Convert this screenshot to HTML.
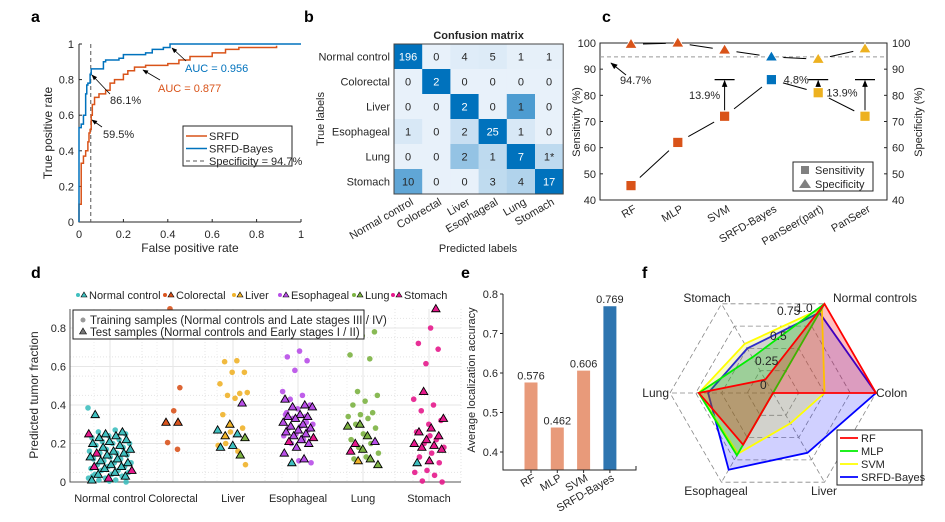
<!DOCTYPE html>
<html><head><meta charset="utf-8">
<style>
html,body{margin:0;padding:0;background:#fff;}
svg{display:block;font-family:"Liberation Sans",Arial,sans-serif;fill:#262626;}
text{font-size:11px;}
.pl{font-size:16px;font-weight:bold;fill:#000;}
</style></head><body>
<svg id="fig" width="945" height="522" viewBox="0 0 945 522" xmlns="http://www.w3.org/2000/svg">
<text class="pl" x="31" y="22">a</text>
<text class="pl" x="304" y="22">b</text>
<text class="pl" x="602" y="22">c</text>
<text class="pl" x="31" y="278">d</text>
<text class="pl" x="461" y="278">e</text>
<text class="pl" x="642" y="278">f</text>
<g id="ga"></g>
<g id="gb"></g>
<g id="gc"></g>
<g id="gd"></g>
<g id="ge"></g>
<g id="gf"></g>
</svg>
<script>
// ---------- Panel a data ----------
const rocBayesFpr=[0,0,0.01,0.02,0.03,0.035,0.04,0.05,0.055,0.1,0.11,0.12,0.18,0.2,0.3,0.33,0.38,0.41,1];
const rocBayesTpr=[0,0.53,0.55,0.6,0.72,0.77,0.78,0.83,0.86,0.86,0.9,0.91,0.92,0.94,0.95,0.97,0.98,1,1];
const rocSrfdFpr=[0,0,0.01,0.02,0.03,0.04,0.045,0.05,0.055,0.06,0.07,0.09,0.12,0.14,0.16,0.2,0.22,0.25,0.3,0.4,0.45,0.5,0.6,0.66,0.72,0.89];
const rocSrfdTpr=[0,0.1,0.33,0.37,0.4,0.45,0.5,0.52,0.6,0.66,0.7,0.72,0.74,0.78,0.8,0.83,0.85,0.87,0.88,0.89,0.91,0.93,0.95,0.97,0.98,0.99];
const rocTicks=[0,0.2,0.4,0.6,0.8,1];
const specLine=0.053;
// ---------- Panel b data ----------
const cmLabels=["Normal control","Colorectal","Liver","Esophageal","Lung","Stomach"];
const cmValues=[[196,0,4,5,1,1],[0,2,0,0,0,0],[0,0,2,0,1,0],[1,0,2,25,1,0],[0,0,2,1,7,1],[10,0,0,3,4,17]];
// ---------- Panel c data ----------
const cCats=["RF","MLP","SVM","SRFD-Bayes","PanSeer(part)","PanSeer"];
const cSens=[45.5,62,72,86,81,72];
const cSpec=[99.5,100,97.3,94.7,93.8,97.8];
const cTicks=[40,50,60,70,80,90,100];
// ---------- Panel d data ----------
const dCats=["Normal control","Colorectal","Liver","Esophageal","Lung","Stomach"];
const dTrain=[
 [0.385,0.27,0.26,0.25,0.24,0.23,0.22,0.21,0.2,0.2,0.19,0.18,0.17,0.16,0.15,0.15,0.14,0.13,0.12,0.12,0.11,0.1,0.1,0.09,0.08,0.08,0.07,0.06,0.06,0.05,0.04,0.04,0.03,0.02,0.02,0.01,0.01,0.0,0.005,0.03],
 [0.9,0.49,0.37,0.205,0.17],
 [0.63,0.625,0.57,0.57,0.51,0.46,0.45,0.465,0.435,0.35,0.28,0.26,0.19,0.16,0.2,0.09],
 [0.76,0.68,0.65,0.63,0.58,0.47,0.45,0.43,0.4,0.38,0.35,0.34,0.33,0.3,0.29,0.28,0.27,0.25,0.24,0.22,0.2,0.1,0.11,0.36,0.31],
 [0.8,0.78,0.76,0.66,0.64,0.47,0.45,0.42,0.4,0.36,0.35,0.34,0.33,0.3,0.28,0.25,0.22,0.2,0.18,0.15,0.13,0.12],
 [0.8,0.72,0.69,0.615,0.43,0.4,0.37,0.32,0.3,0.26,0.22,0.2,0.18,0.15,0.13,0.1,0.06,0.05,0.035,0.005,0.0,0.24]
];
const dTest=[
 [0.35,0.26,0.25,0.25,0.24,0.23,0.22,0.21,0.2,0.19,0.18,0.17,0.16,0.15,0.15,0.14,0.13,0.12,0.11,0.1,0.09,0.08,0.08,0.07,0.06,0.05,0.04,0.03,0.02,0.01],
 [0.31,0.31],
 [0.41,0.3,0.27,0.25,0.24,0.23,0.19,0.18,0.14],
 [0.43,0.4,0.39,0.39,0.35,0.34,0.34,0.33,0.31,0.3,0.29,0.28,0.27,0.26,0.25,0.24,0.23,0.22,0.21,0.2,0.18,0.15,0.12,0.1],
 [0.3,0.29,0.24,0.2,0.21,0.17,0.16,0.12,0.11,0.09],
 [0.9,0.47,0.33,0.28,0.26,0.24,0.22,0.2,0.19,0.18,0.17,0.11,0.1]
];
const dTestClass=[
 [0,0,0,5,0,0,0,0,0,0,0,0,0,5,0,0,0,0,0,0,0,5,0,0,5,0,0,0,5,0],
 [1,1],
 [3,2,0,0,2,4,0,0,4],
 [3,3,3,3,3,3,3,3,3,3,3,3,3,3,3,3,5,3,5,3,3,3,3,0],
 [4,4,4,5,3,4,5,4,2,4],
 [5,5,5,5,5,5,5,5,5,5,5,5,0]
];
const dTicks=[0,0.2,0.4,0.6,0.8];
// ---------- Panel e data ----------
const eCats=["RF","MLP","SVM","SRFD-Bayes"];
const eVals=[0.576,0.462,0.606,0.769];
const eLabels=["0.576","0.462","0.606","0.769"];
const eTicks=[0.4,0.5,0.6,0.7,0.8];
// ---------- Panel f data ----------
const fAxes=["Colon","Normal controls","Stomach","Lung","Esophageal","Liver"];
const fRF=[1,1,0.15,0.72,0.58,0];
const fMLP=[0,1,0.4,0.72,0.7,0];
const fSVM=[0.5,0.95,0.55,0.72,0.68,0.34];
const fBayes=[1,0.9,0.5,0.63,0.86,0.67];
const fRings=[0.25,0.5,0.75,1];

const NS="http://www.w3.org/2000/svg";
function mk(parent,tag,attrs,txt){const e=document.createElementNS(NS,tag);for(const k in attrs)e.setAttribute(k,attrs[k]);if(txt!==undefined)e.textContent=txt;parent.appendChild(e);return e;}
const fmt=v=>(Math.round(v*100)/100).toString();

// ================= Panel a =================
(function(){
const g=document.getElementById('ga');
const X0=79,X1=301,Y0=222,Y1=44;
const sx=v=>X0+v*(X1-X0), sy=v=>Y0-v*(Y0-Y1);
let ax=mk(g,'path',{d:`M${X0},${Y1}V${Y0}H${X1}`,fill:'none',stroke:'#262626','stroke-width':1});

rocTicks.forEach(t=>{
 mk(g,'line',{x1:X0,x2:X0+3,y1:sy(t),y2:sy(t),stroke:'#262626'});
 mk(g,'line',{x1:sx(t),x2:sx(t),y1:Y0,y2:Y0-3,stroke:'#262626'});
 let a=mk(g,'text',{x:X0-5,y:sy(t)+4,'text-anchor':'end'},fmt(t));
 
 let b=mk(g,'text',{x:sx(t),y:Y0+16,'text-anchor':'middle'},fmt(t));
 
});
let yl=mk(g,'text',{x:0,y:0,transform:`translate(52,${(Y0+Y1)/2}) rotate(-90)`,'text-anchor':'middle'},'True positive rate');
yl.style.fontSize='12px';
let xl=mk(g,'text',{x:(X0+X1)/2,y:252,'text-anchor':'middle'},'False positive rate');
xl.style.fontSize='12px';
function step(fx,ty){let d=`M${sx(fx[0])},${sy(ty[0])}`;for(let i=1;i<fx.length;i++){d+=`H${sx(fx[i])}V${sy(ty[i])}`;}return d;}
let sl=mk(g,'line',{x1:sx(specLine),x2:sx(specLine),y1:Y1,y2:Y0,stroke:'#555','stroke-dasharray':'4,3'});

let c1=mk(g,'path',{d:step(rocSrfdFpr,rocSrfdTpr),fill:'none',stroke:'#d95319','stroke-width':1.5});

let c2=mk(g,'path',{d:step(rocBayesFpr,rocBayesTpr),fill:'none',stroke:'#0072bd','stroke-width':1.5});

mk(g,'defs',{}).innerHTML='<marker id="ah" viewBox="0 0 10 10" refX="9" refY="5" markerWidth="7" markerHeight="7" orient="auto-start-reverse"><path d="M0,1L10,5L0,9z" fill="#000"/></marker>';
function arrow(x1,y1,x2,y2,name){let l=mk(g,'line',{x1,y1,x2,y2,stroke:'#000','stroke-width':0.8,'marker-end':'url(#ah)'});}
arrow(186,61,172,48,'auc-bayes-arrow');arrow(160,80,143,70,'auc-srfd-arrow');
arrow(110,94,92,75,'bayes-86-arrow');arrow(102,127,92,120,'srfd-59-arrow');
[[185,72,'#0072bd','AUC = 0.956','auc-bayes-label'],[158,92,'#d95319','AUC = 0.877','auc-srfd-label'],[110,104,'#262626','86.1%','bayes-86-label'],[103,138,'#262626','59.5%','srfd-59-label']].forEach(a=>{let t=mk(g,'text',{x:a[0],y:a[1],fill:a[2]},a[3]);});
let lg=mk(g,'g',{});
mk(lg,'rect',{x:183,y:126,width:109,height:40,fill:'#fff',stroke:'#262626'});
[['#d95319','SRFD',''],['#0072bd','SRFD-Bayes',''],['#555','Specificity = 94.7%','4,3']].forEach((e,i)=>{
 const y=136+i*12.5;mk(lg,'line',{x1:186,x2:207,y1:y,y2:y,stroke:e[0],'stroke-width':e[2]?1:1.5,'stroke-dasharray':e[2]||'none'});
 let t=mk(lg,'text',{x:209,y:y+4},e[1]);});
})();

// ================= Panel b =================
(function(){
const g=document.getElementById('gb');
const X0=394,Y0=44,cw=28.2,ch=25;
function lerp(a,b,t){return Math.round(a+(b-a)*t);}
cmValues.forEach((row,i)=>{const s=row.reduce((a,b)=>a+b,0);row.forEach((v,j)=>{
 const t=Math.min(1,(v/s)/0.5);
 const col=`rgb(${lerp(232,0,t)},${lerp(241,114,t)},${lerp(250,189,t)})`;
 let r=mk(g,'rect',{x:X0+j*cw,y:Y0+i*ch,width:cw+0.3,height:ch+0.3,fill:col});
 
 let tx=mk(g,'text',{x:X0+j*cw+cw/2,y:Y0+i*ch+ch/2+4,'text-anchor':'middle',fill:t>0.8?'#fff':'#262626'},String(v)+(i===4&&j===5?'*':''));
 
});});
mk(g,'rect',{x:X0,y:Y0,width:cw*6,height:ch*6,fill:'none',stroke:'#444'});
let tt=mk(g,'text',{x:X0+cw*3,y:Y0-5,'text-anchor':'middle','font-weight':'bold'},'Confusion matrix');

cmLabels.forEach((l,i)=>{
 let a=mk(g,'text',{x:X0-4,y:Y0+i*ch+ch/2+4,'text-anchor':'end'},l);
 const cx=X0+i*cw+cw/2+6;
 let b=mk(g,'text',{x:0,y:0,'text-anchor':'end',transform:`translate(${cx},${Y0+ch*6+10}) rotate(-30)`},l);
});
let yl=mk(g,'text',{x:0,y:0,transform:`translate(324,${Y0+ch*3}) rotate(-90)`,'text-anchor':'middle'},'True labels');
let xl=mk(g,'text',{x:478,y:252,'text-anchor':'middle'},'Predicted labels');
})();

// ================= Panel c =================
(function(){
const g=document.getElementById('gc');
const X0=600,X1=887,Y0=200,Y1=43;
const sy=v=>Y0-(v-40)/60*(Y0-Y1);const sx=i=>631+i*46.8;
mk(g,'rect',{x:X0,y:Y1,width:X1-X0,height:Y0-Y1,fill:'none',stroke:'#262626'});
cTicks.forEach(t=>{
 mk(g,'line',{x1:X0,x2:X0+3,y1:sy(t),y2:sy(t),stroke:'#262626'});mk(g,'line',{x1:X1,x2:X1-3,y1:sy(t),y2:sy(t),stroke:'#262626'});
 let a=mk(g,'text',{x:X0-4,y:sy(t)+4,'text-anchor':'end'},String(t));
 let b=mk(g,'text',{x:X1+5,y:sy(t)+4},String(t));
});
let yl=mk(g,'text',{x:0,y:0,transform:`translate(580,122) rotate(-90)`,'text-anchor':'middle'},'Sensitivity (%)');
let yr=mk(g,'text',{x:0,y:0,transform:`translate(922,122) rotate(-90)`,'text-anchor':'middle'},'Specificity (%)');
let dl=mk(g,'line',{x1:X0,x2:X1,y1:sy(94.7),y2:sy(94.7),stroke:'#999','stroke-dasharray':'4,3'});
const cols=['#d95319','#d95319','#d95319','#0072bd','#edb120','#edb120'];
function seg(arr,gap){for(let i=0;i<arr.length-1;i++){const x1=sx(i),y1=sy(arr[i]),x2=sx(i+1),y2=sy(arr[i+1]);const dx=x2-x1,dy=y2-y1,L=Math.hypot(dx,dy);
 mk(g,'line',{x1:x1+dx/L*gap,y1:y1+dy/L*gap,x2:x2-dx/L*gap,y2:y2-dy/L*gap,stroke:'#000','stroke-width':1});}}
seg(cSens,12);seg(cSpec,12);
cCats.forEach((c,i)=>{
 let s=mk(g,'rect',{x:sx(i)-5,y:sy(cSens[i])-5,width:10,height:10,fill:cols[i],stroke:'#fff','stroke-width':0.8});
 const x=sx(i),y=sy(cSpec[i]);
 let t=mk(g,'path',{d:`M${x},${y-6}L${x+6},${y+4}L${x-6},${y+4}Z`,fill:cols[i],stroke:'#fff','stroke-width':0.8});
 let l=mk(g,'text',{x:0,y:0,'text-anchor':'end',transform:`translate(${sx(i)+6},211) rotate(-30)`},c);
});
[[2,'13.9%',-20,0],[4,'4.8%',-22,1],[5,'13.9%',-23,2]].forEach(a=>{const x=sx(a[0]),yb=sy(cSens[a[0]])-6,yt=sy(cSens[3]);
 mk(g,'line',{x1:x,x2:x,y1:yb,y2:yt+1,stroke:'#000','marker-end':'url(#ah)'});
 mk(g,'line',{x1:x-10,x2:x+10,y1:yt,y2:yt,stroke:'#000','stroke-width':1.2});
 const ty=a[3]===1?yt+4:(a[3]===2?yt+17:(yb+yt)/2+4);
 let t=mk(g,'text',{x:x+a[2],y:ty,'text-anchor':'middle'},a[1]);
});
mk(g,'line',{x1:626,y1:75,x2:611,y2:63,stroke:'#000','marker-end':'url(#ah)'});
let p=mk(g,'text',{x:620,y:84},'94.7%');
let lg=mk(g,'g',{});
mk(lg,'rect',{x:793,y:162,width:80,height:29,fill:'#fff',stroke:'#262626'});
mk(lg,'rect',{x:801,y:166,width:8,height:8,fill:'#808080'});mk(lg,'path',{d:'M805,179L811,188L799,188Z',fill:'#808080'});
mk(lg,'text',{x:815,y:174},'Sensitivity');mk(lg,'text',{x:815,y:188},'Specificity');
})();

// ================= Panel d =================
(function(){
const g=document.getElementById('gd');
const X0=70,X1=461,Y0=482,Ytop=309;
const sy=v=>Y0-v*192.5;const cx=[110,173,233,298,363,429];
const colors=['#3fbfbf','#d9541e','#f0b32a','#b84ee8','#7cb342','#e6198c'];
for(let v=0.05;v<0.9;v+=0.1)mk(g,'line',{x1:X0,x2:X1,y1:sy(v),y2:sy(v),stroke:'#e4e4e4','stroke-dasharray':'1,2'});
dTicks.forEach(t=>{mk(g,'line',{x1:X0,x2:X1,y1:sy(t),y2:sy(t),stroke:'#e6e6e6'});
 let a=mk(g,'text',{x:X0-4,y:sy(t)+4,'text-anchor':'end'},fmt(t));});
cx.forEach((x,i)=>{mk(g,'line',{x1:x,x2:x,y1:Ytop,y2:Y0,stroke:'#e6e6e6'});mk(g,'line',{x1:x+32,x2:x+32,y1:Ytop,y2:Y0,stroke:'#e4e4e4','stroke-dasharray':'1,2'});mk(g,'line',{x1:x-16,x2:x-16,y1:Ytop,y2:Y0,stroke:'#eee','stroke-dasharray':'1,2'});
 let l=mk(g,'text',{x:x,y:502,'text-anchor':'middle'},dCats[i]);});
mk(g,'path',{d:`M${X0},${Ytop}V${Y0}H${X1}`,fill:'none',stroke:'#555'});
let yl=mk(g,'text',{x:0,y:0,transform:`translate(38,395) rotate(-90)`,'text-anchor':'middle'},'Predicted tumor fraction');yl.style.fontSize='12px';
const jit=(i,k)=>(((i*0.618+k*0.31)%1)-0.5);
const half=[22,8,16,16,16,16];
dTrain.forEach((arr,k)=>{arr.forEach((v,i)=>{
 let c=mk(g,'circle',{cx:cx[k]+jit(i,k)*2*half[k],cy:sy(v),r:2.8,fill:colors[k],opacity:0.9});});});
dTest.forEach((arr,k)=>{arr.forEach((v,i)=>{
 const x=cx[k]+(k===1?(i===0?-7:5):jit(i+3,k+1)*2*half[k]),y=sy(v);
 let t=mk(g,'path',{d:`M${x},${y-4.2}L${x+4.2},${y+3}L${x-4.2},${y+3}Z`,fill:colors[dTestClass[k][i]],stroke:'#000','stroke-width':0.9});});});
const names=dCats;
let lg=mk(g,'g',{});
[78,165,234,280,354,393].forEach((x,i)=>{mk(lg,'circle',{cx:x,cy:295,r:2,fill:colors[i]});mk(lg,'path',{d:`M${x+6},${292}L${x+9},${297}L${x+3},${297}Z`,fill:colors[i],stroke:'#000','stroke-width':0.6});
 mk(lg,'text',{x:x+11,y:299},names[i]);});
let lb=mk(g,'g',{});
mk(lb,'rect',{x:73,y:310,width:291,height:29,fill:'#fff',stroke:'#222'});
mk(lb,'circle',{cx:83,cy:320,r:2.5,fill:'#999'});mk(lb,'path',{d:'M83,328L86.5,334L79.5,334Z',fill:'#777',stroke:'#000','stroke-width':0.6});
let a1=mk(lb,'text',{x:90,y:324},'Training samples (Normal controls and Late stages III / IV)');a1.style.fontSize='11.5px';
let a2=mk(lb,'text',{x:90,y:336},'Test samples (Normal controls and Early stages I / II)');a2.style.fontSize='11.5px';
})();

// ================= Panel e =================
(function(){
const g=document.getElementById('ge');
const X0=503,X1=636,Y0=470;const sy=v=>294+(0.8-v)*395;const sx=i=>531+i*26.3;
eVals.forEach((v,i)=>{let b=mk(g,'rect',{x:sx(i)-6.5,y:sy(v),width:13,height:Y0-sy(v),fill:i===3?'#2e75b0':'#e89a7a'});
 let t=mk(g,'text',{x:sx(i),y:sy(v)-3,'text-anchor':'middle'},eLabels[i]);
 let l=mk(g,'text',{x:0,y:0,'text-anchor':'end',transform:`translate(${sx(i)+5},480) rotate(-30)`},eCats[i]);
 mk(g,'line',{x1:sx(i),x2:sx(i),y1:Y0,y2:Y0+3,stroke:'#262626'});});
mk(g,'path',{d:`M${X0},294V${Y0}H${X1}V${Y0-4}`,fill:'none',stroke:'#262626'});
eTicks.forEach(t=>{mk(g,'line',{x1:X0-3,x2:X0,y1:sy(t),y2:sy(t),stroke:'#262626'});
 let a=mk(g,'text',{x:X0-5,y:sy(t)+4,'text-anchor':'end'},t.toFixed(1));});
let yl=mk(g,'text',{x:0,y:0,transform:`translate(475,380) rotate(-90)`,'text-anchor':'middle'},'Average localization accuracy');
})();

// ================= Panel f =================
(function(){
const g=document.getElementById('gf');
const CX=773,CY=393,R=103;
const pt=(k,v)=>[CX+Math.cos(k*Math.PI/3)*R*v,CY-Math.sin(k*Math.PI/3)*R*v];
fRings.forEach(r=>{let d='';for(let k=0;k<6;k++){const p=pt(k,r);d+=(k?'L':'M')+p[0]+','+p[1];}
 mk(g,'path',{d:d+'Z',fill:'none',stroke:'#888','stroke-dasharray':'5,3','stroke-width':0.8});});
for(let k=0;k<6;k++){const p=pt(k,1);mk(g,'line',{x1:CX,y1:CY,x2:p[0],y2:p[1],stroke:'#888','stroke-dasharray':'5,3','stroke-width':0.8});}
const series=[[fBayes,'#0000ff','rgba(40,40,255,0.22)','radar-srfd-bayes'],[fSVM,'#ffff00','rgba(220,220,0,0.2)','radar-svm'],[fMLP,'#00ee00','rgba(0,200,0,0.25)','radar-mlp'],[fRF,'#ff0000','rgba(255,0,0,0.25)','radar-rf']];
series.forEach(s=>{let d='';s[0].forEach((v,k)=>{const p=pt(k,v);d+=(k?'L':'M')+p[0].toFixed(1)+','+p[1].toFixed(1);});
 let e=mk(g,'path',{d:d+'Z',fill:s[2],stroke:s[1],'stroke-width':1.8});});
[['0',CX-3,CY-8],['0.25',CX-8,CY-32],['0.5',CX+7,CY-57],['0.75',CX+14,CY-82],['1.0',CX+33,CY-85]].forEach(a=>{let t=mk(g,'text',{x:a[1]-10,y:a[2]+4},a[0]);t.style.fontSize='12px';});
[['Colon',876,397,'start'],['Normal controls',833,302,'start'],['Stomach',707,302,'middle'],['Lung',669,397,'end'],['Esophageal',716,495,'middle'],['Liver',824,495,'middle']].forEach(a=>{let t=mk(g,'text',{x:a[1],y:a[2],'text-anchor':a[3]},a[0]);t.style.fontSize='12px';});
let lg=mk(g,'g',{});
mk(lg,'rect',{x:837,y:430,width:85,height:55,fill:'#fff',stroke:'#222'});
[['#ff0000','RF'],['#00ee00','MLP'],['#ffff00','SVM'],['#0000ff','SRFD-Bayes']].forEach((e,i)=>{const y=438+i*13;mk(lg,'line',{x1:840,x2:858,y1:y,y2:y,stroke:e[0],'stroke-width':1.8});mk(lg,'text',{x:861,y:y+4},e[1]);});
})();
</script>
</body></html>
